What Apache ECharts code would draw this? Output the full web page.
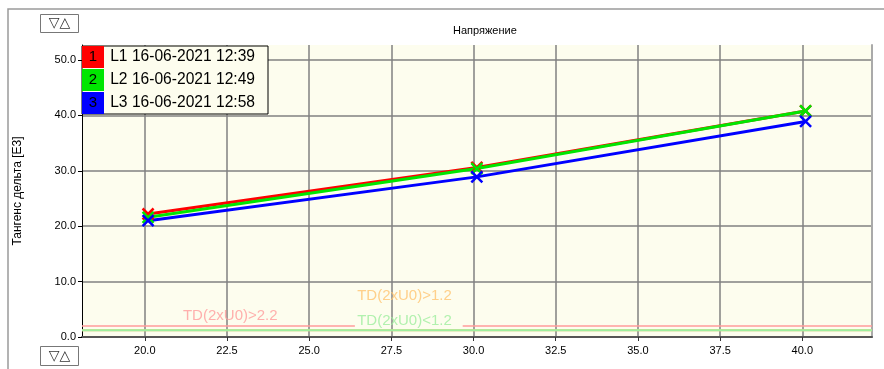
<!DOCTYPE html>
<html>
<head>
<meta charset="utf-8">
<script src="https://cdn.jsdelivr.net/npm/echarts@6/dist/echarts.min.js"></script>
<style>
	html, body { margin: 0; padding: 0; background: #fff; }
	#chart { width: 884px; height: 369px; }
</style>
</head>
<body>
<div id="chart"></div>
<script>
var seriesNames = ['L1 16-06-2021 12:39', 'L2 16-06-2021 12:49', 'L3 16-06-2021 12:58'];
var seriesColors = ['#ff0000', '#00e600', '#0000ff'];
var xValues = [20.1, 30.1, 40.1];
var l1Values = [22.2, 30.6, 40.8];
var l2Values = [21.6, 30.4, 40.8];
var l3Values = [21.0, 28.9, 38.9];
var xTicks = [20, 22.5, 25, 27.5, 30, 32.5, 35, 37.5, 40];
var yTicks = [0, 10, 20, 30, 40, 50];
var xMin = 18.09, xMax = 42.12;
var yMin = 0, yMax = 52.7;
var limitNames = ['TD(2xU0)>2.2', 'TD(2xU0)>1.2', 'TD(2xU0)<1.2'];
var limitValues = [2.0, 1.2, 1.2];
var limitColors = ['#ff9c9c', '#ffc470', '#9eee9e'];
// where the limit captions sit (data units)
var limitLabelX = [22.6, 27.9, 27.9];
var limitLabelY = [3.9, 7.5, 3.0];
var redGap = [26.39, 29.67];

var font = '"Liberation Sans", Arial, sans-serif';
var chart = echarts.init(document.getElementById('chart'));

function pts(ys) {
	return xValues.map(function(x, i) { return [x, ys[i]]; });
}

var lineSeries = [l1Values, l2Values, l3Values].map(function(ys, i) {
	return {
		name: seriesNames[i],
		type: 'line',
		data: pts(ys),
		z: 5,
		color: seriesColors[i],
		lineStyle: { width: 3, color: seriesColors[i] },
		symbol: 'path://M0,0L10,10M10,0L0,10',
		symbolSize: 11,
		symbolKeepAspect: true,
		showSymbol: true,
		itemStyle: { color: seriesColors[i], borderColor: seriesColors[i], borderWidth: 2.5 }
	};
});

var limitSeries = [{
	type: 'line',
	name: 'lim1',
	data: [[xMin, limitValues[0]], [redGap[0], limitValues[0]], [(redGap[0] + redGap[1]) / 2, '-'], [redGap[1], limitValues[0]], [xMax, limitValues[0]]],
	symbol: 'none', silent: true, z: 3,
	lineStyle: { color: limitColors[0], width: 1.5 }
}, {
	type: 'line',
	name: 'lim2',
	data: [[xMin, limitValues[1]], [xMax, limitValues[1]]],
	symbol: 'none', silent: true, z: 3,
	lineStyle: { color: limitColors[1], width: 2 }
}, {
	type: 'line',
	name: 'lim3',
	data: [[xMin, limitValues[2]], [xMax, limitValues[2]]],
	symbol: 'none', silent: true, z: 3,
	lineStyle: { color: limitColors[2], width: 2 }
}, {
	type: 'scatter',
	name: 'limlabels',
	silent: true, z: 4,
	symbolSize: 1,
	itemStyle: { color: 'rgba(0,0,0,0)' },
	data: limitNames.map(function(n, i) {
		return {
			name: n,
			value: [limitLabelX[i], limitLabelY[i]],
			label: { color: limitColors[i] }
		};
	}),
	label: {
		show: true,
		position: 'inside',
		formatter: '{b}',
		fontSize: 15,
		fontFamily: font
	}
}];

var rich = {
	t: { width: 151, height: 22, padding: [0, 8, 0, 0], fontSize: 15.6, fontFamily: font, color: '#000' }
};
seriesColors.forEach(function(c, i) {
	rich['n' + i] = { backgroundColor: c, width: 22, height: 22, align: 'center', fontSize: 15, fontFamily: font, color: '#000' };
});

var option = {
	animation: false,
	title: {
		text: 'Напряжение',
		left: 448,
		top: 20,
		textStyle: { fontSize: 11, fontWeight: 'normal', color: '#000', fontFamily: font }
	},
	legend: {
		data: seriesNames,
		orient: 'vertical',
		left: 82,
		top: 46,
		align: 'right',
		icon: 'rect',
		itemWidth: 0,
		itemHeight: 22,
		itemGap: 1,
		padding: 0,
		borderColor: '#000',
		borderWidth: 1,
		backgroundColor: '#fdfdee',
		selectedMode: false,
		itemStyle: { color: 'rgba(0,0,0,0)', borderWidth: 0 },
		formatter: function(name) {
			var i = seriesNames.indexOf(name);
			return '{n' + i + '|' + (i + 1) + '}{t|' + name + '}';
		},
		textStyle: { rich: rich }
	},
	grid: {
		left: 82,
		right: 12,
		top: 45,
		bottom: 32,
		show: true,
		backgroundColor: '#fdfdee',
		borderWidth: 0
	},
	xAxis: {
		type: 'value',
		min: xMin,
		max: xMax,
		axisLine: { show: true, onZero: false, lineStyle: { color: '#555', width: 2 } },
		axisTick: { show: true, length: 4, customValues: xTicks, lineStyle: { color: '#333' } },
		axisLabel: {
			customValues: xTicks,
			formatter: function(v) { return v.toFixed(1); },
			fontSize: 11, color: '#000', fontFamily: font, margin: 8
		},
		splitLine: { show: true, lineStyle: { color: '#808080', width: 1.5 } }
	},
	yAxis: [{
		type: 'value',
		min: yMin,
		max: yMax,
		name: 'Тангенс дельта [E3]',
		nameLocation: 'middle',
		nameGap: 58,
		nameTextStyle: { fontSize: 12, color: '#000', fontFamily: font },
		axisLine: { show: true, lineStyle: { color: '#000', width: 1 } },
		axisTick: { show: true, length: 4, customValues: yTicks, lineStyle: { color: '#000' } },
		axisLabel: {
			customValues: yTicks,
			formatter: function(v) { return v.toFixed(1); },
			fontSize: 11, color: '#000', fontFamily: font, margin: 6
		},
		splitLine: { show: true, lineStyle: { color: '#808080', width: 1.5 } }
	}, {
		type: 'value',
		min: yMin,
		max: yMax,
		position: 'right',
		axisLine: { show: true, lineStyle: { color: '#aaa', width: 2 } },
		axisTick: { show: false },
		axisLabel: { show: false },
		splitLine: { show: false }
	}],
	graphic: [{
		type: 'rect',
		shape: { x: 8, y: 9, width: 1000, height: 500 },
		style: { fill: null, stroke: '#9a9a9a', lineWidth: 1.5 },
		silent: true
	}, {
		type: 'group',
		left: 40, top: 14,
		children: [{
			type: 'rect', shape: { x: 0, y: 0, width: 38, height: 18 },
			style: { fill: '#fff', stroke: '#777', lineWidth: 1 }
		}, {
			type: 'text', x: 19, y: 9,
			style: { text: '▽△', fontSize: 14, fontFamily: '"DejaVu Sans"', fill: '#333', align: 'center', verticalAlign: 'middle' }
		}]
	}, {
		type: 'group',
		left: 40, top: 346,
		children: [{
			type: 'rect', shape: { x: 0, y: 0, width: 38, height: 19 },
			style: { fill: '#fff', stroke: '#777', lineWidth: 1 }
		}, {
			type: 'text', x: 19, y: 10,
			style: { text: '▽△', fontSize: 14, fontFamily: '"DejaVu Sans"', fill: '#333', align: 'center', verticalAlign: 'middle' }
		}]
	}],
	series: limitSeries.concat(lineSeries)
};
chart.setOption(option);
</script>
</body>
</html>
